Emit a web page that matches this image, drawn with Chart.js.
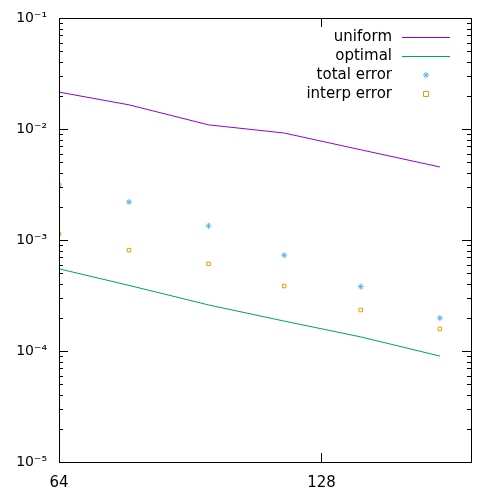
<!DOCTYPE html>
<html>
<head>
<script src="https://cdn.jsdelivr.net/npm/chart.js@4"></script>
<style>body{margin:0;background:#fff}</style>
</head>
<body>
<div style="width:500px;height:500px"><canvas id="c"></canvas></div>
<script>
const xs = [64, 77, 95, 116, 142, 175];
const uniform = [0.0215, 0.0165, 0.0109, 0.0092, 0.0065, 0.00455];
const optimal = [5.5e-4, 3.9e-4, 2.6e-4, 1.86e-4, 1.34e-4, 9.0e-5];
const totalError = [3.13e-3, 2.2e-3, 1.34e-3, 7.3e-4, 3.8e-4, 1.98e-4];
const interpError = [1.13e-3, 8.1e-4, 6.1e-4, 3.85e-4, 2.34e-4, 1.58e-4];
const xTicks = [64, 128];
const yTicks = [1e-5, 1e-4, 1e-3, 1e-2, 1e-1];
const yLabels = ['10⁻⁵', '10⁻⁴', '10⁻³', '10⁻²', '10⁻¹'];

const pts = arr => arr.map((v, i) => ({x: xs[i], y: v}));

const frame = {
    id: 'frame',
    afterDatasetsDraw(chart) {
        const {ctx, chartArea: a, scales} = chart;
        ctx.save();
        ctx.strokeStyle = '#000';
        ctx.lineWidth = 1;
        ctx.strokeRect(a.left + 0.5, a.top + 0.5, a.right - a.left, a.bottom - a.top);
        ctx.beginPath();
        yTicks.forEach(t => {
            const y = Math.round(scales.y.getPixelForValue(t)) + 0.5;
            ctx.moveTo(a.left, y); ctx.lineTo(a.left + 9, y);
            ctx.moveTo(a.right, y); ctx.lineTo(a.right - 9, y);
            for (let m = 2; m < 10 && t < 0.1; m++) {
                const ym = Math.round(scales.y.getPixelForValue(t * m)) + 0.5;
                ctx.moveTo(a.left, ym); ctx.lineTo(a.left + 4, ym);
                ctx.moveTo(a.right, ym); ctx.lineTo(a.right - 4, ym);
            }
        });
        xTicks.forEach(t => {
            const x = Math.round(scales.x.getPixelForValue(t)) + 0.5;
            ctx.moveTo(x, a.bottom); ctx.lineTo(x, a.bottom - 9);
            ctx.moveTo(x, a.top); ctx.lineTo(x, a.top + 9);
        });
        ctx.stroke();
        // legend
        ctx.font = '15px "DejaVu Sans", sans-serif';
        ctx.fillStyle = '#000';
        ctx.textAlign = 'right';
        ctx.textBaseline = 'middle';
        const items = [
            ['uniform', '#9400d3', 'line'],
            ['optimal', '#009e73', 'line'],
            ['total error', '#56b4e9', 'star'],
            ['interp error', '#e69f00', 'rect']
        ];
        items.forEach((it, i) => {
            const y = 37 + i * 19;
            ctx.fillText(it[0], 392, y);
            ctx.strokeStyle = it[1];
            ctx.beginPath();
            if (it[2] === 'line') {
                ctx.moveTo(402, y + 0.5); ctx.lineTo(450, y + 0.5);
            } else if (it[2] === 'star') {
                const cx = 426;
                ctx.moveTo(cx - 3, y); ctx.lineTo(cx + 3, y);
                ctx.moveTo(cx, y - 3); ctx.lineTo(cx, y + 3);
                ctx.moveTo(cx - 2, y - 2); ctx.lineTo(cx + 2, y + 2);
                ctx.moveTo(cx - 2, y + 2); ctx.lineTo(cx + 2, y - 2);
            } else {
                ctx.rect(423.5, y - 2.5, 5, 5);
            }
            ctx.stroke();
        });
        ctx.restore();
    }
};

new Chart(document.getElementById('c'), {
    type: 'scatter',
    data: {
        datasets: [
            {label: 'uniform', data: pts(uniform), showLine: true, borderColor: '#9400d3', borderWidth: 1, pointRadius: 0},
            {label: 'optimal', data: pts(optimal), showLine: true, borderColor: '#009e73', borderWidth: 1, pointRadius: 0},
            {label: 'total error', data: pts(totalError), borderColor: '#56b4e9', backgroundColor: '#56b4e9', pointStyle: 'star', pointRadius: 3, borderWidth: 1},
            {label: 'interp error', data: pts(interpError), borderColor: '#e69f00', backgroundColor: 'transparent', pointStyle: 'rect', pointRadius: 2.5, borderWidth: 1}
        ]
    },
    options: {
        responsive: true,
        maintainAspectRatio: false,
        animation: false,
        layout: {padding: {top: 18, right: 29, left: 0, bottom: 0}},
        plugins: {legend: {display: false}, tooltip: {enabled: false}},
        scales: {
            x: {
                type: 'logarithmic', min: 64, max: 190,
                afterBuildTicks: s => { s.ticks = xTicks.map(v => ({value: v})); },
                afterFit: s => { s.height = 38; },
                grid: {display: false},
                border: {display: false},
                ticks: {color: '#000', font: {size: 15, family: 'DejaVu Sans'}, maxRotation: 0, padding: 4, callback: v => String(v)}
            },
            y: {
                type: 'logarithmic', min: 1e-5, max: 1e-1,
                afterBuildTicks: s => { s.ticks = yTicks.map(v => ({value: v})); },
                afterFit: s => { s.width = 59; },
                grid: {display: false},
                border: {display: false},
                ticks: {color: '#000', font: {size: 14, family: 'DejaVu Sans'}, padding: 4,
                    callback: v => yLabels[yTicks.findIndex(t => Math.abs(t - v) / t < 1e-6)]}
            }
        }
    },
    plugins: [frame]
});
</script>
</body>
</html>
